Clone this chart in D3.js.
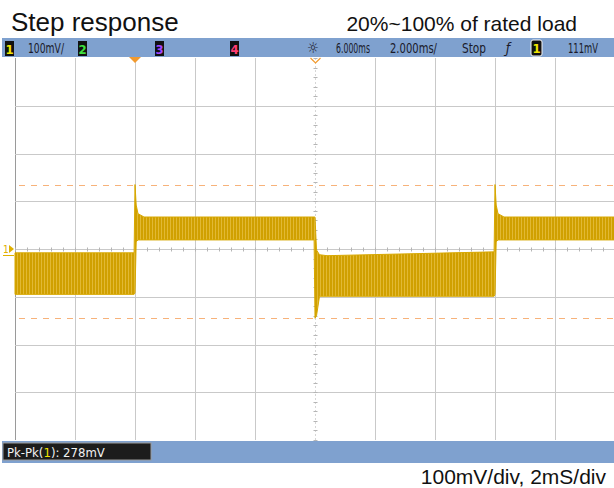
<!DOCTYPE html>
<html>
<head>
<meta charset="utf-8">
<script src="https://cdn.jsdelivr.net/npm/d3@7"></script>
<style>
  body { margin: 0; background: #fff; }
  svg { display: block; }
  .title { font-family: "Liberation Sans", Arial, sans-serif; fill: #111; }
  .scope { font-family: "DejaVu Sans Condensed", "DejaVu Sans", sans-serif; font-stretch: condensed; }
</style>
</head>
<body>
<div id="chart"></div>
<script>
// trace envelope (time in ms, volts in mV relative to ch1 ground)
var traceTime  = [-4, -0.03, 0.0, 0.04, 0.1, 0.3, 5.97, 6.0, 6.05, 6.15, 6.4, 11.97, 12.0, 12.04, 12.1, 12.3, 16];
var traceUpper = [-8, -8, 135, 92, 74, 67, 67, 67, -2, -12, -14, -6, 135, 92, 74, 67, 67];
var traceLower = [-95, -95, -92, 15, 19, 19, 19, -145, -140, -99, -99, -99, -95, 15, 19, 19, 19];

var xTicks = [-4, -2, 0, 2, 4, 6, 8, 10, 12, 14, 16];
var yTicks = [-400, -300, -200, -100, 0, 100, 200, 300, 400];
var cursorLevels = [135, -145];   // dashed orange cursors
var triggerTime = 0;
var delayTime = 6;

var width = 614, height = 488;

var svg = d3.select("#chart").append("svg")
    .attr("width", width)
    .attr("height", height);

var xScale = d3.scaleLinear().domain([-4, 16]).range([15, 615]);
var yScale = d3.scaleLinear().domain([-400, 400]).range([440, 58]);

// titles
svg.append("text").attr("class", "title")
    .attr("x", 11).attr("y", 31)
    .attr("font-size", 26)
    .text("Step response");

svg.append("text").attr("class", "title")
    .attr("x", 577).attr("y", 31)
    .attr("text-anchor", "end")
    .attr("font-size", 21)
    .text("20%~100% of rated load");

svg.append("text").attr("class", "title")
    .attr("x", 606).attr("y", 484)
    .attr("text-anchor", "end")
    .attr("font-size", 21)
    .text("100mV/div, 2mS/div");

// grid
var grid = svg.append("g");

grid.selectAll(".vline")
    .data(xTicks.filter(d => d != delayTime))
    .enter().append("line")
    .attr("x1", d => Math.round(xScale(d)) + 0.5)
    .attr("x2", d => Math.round(xScale(d)) + 0.5)
    .attr("y1", yScale(400))
    .attr("y2", yScale(-400))
    .attr("stroke", d => d == -4 ? "#9a9a9a" : "#c9c9c9");

grid.selectAll(".hline")
    .data(yTicks.filter(d => d != 0 && Math.abs(d) != 400))
    .enter().append("line")
    .attr("x1", xScale(-4))
    .attr("x2", width)
    .attr("y1", d => Math.round(yScale(d)) + 0.5)
    .attr("y2", d => Math.round(yScale(d)) + 0.5)
    .attr("stroke", "#c9c9c9");

// centre axes with minor ticks
var cx = Math.round(xScale(delayTime)) + 0.5;
var cy = Math.round(yScale(0)) + 0.5;
grid.append("line")
    .attr("x1", xScale(-4)).attr("x2", width)
    .attr("y1", cy).attr("y2", cy)
    .attr("stroke", "#c9c9c9");
grid.append("line")
    .attr("x1", cx).attr("x2", cx)
    .attr("y1", yScale(400)).attr("y2", yScale(-400))
    .attr("stroke", "#d6d6d6")
    .attr("stroke-dasharray", "2,2");

var minorX = d3.range(-4, 16.01, 0.4);
grid.selectAll(".mx")
    .data(minorX)
    .enter().append("line")
    .attr("x1", d => Math.round(xScale(d)) + 0.5)
    .attr("x2", d => Math.round(xScale(d)) + 0.5)
    .attr("y1", cy - 2).attr("y2", cy + 2)
    .attr("stroke", "#b5b5b5");

var minorY = d3.range(-400, 400.1, 20);
grid.selectAll(".my")
    .data(minorY)
    .enter().append("line")
    .attr("x1", cx - 2).attr("x2", cx + 2)
    .attr("y1", d => Math.round(yScale(d)) + 0.5)
    .attr("y2", d => Math.round(yScale(d)) + 0.5)
    .attr("stroke", "#b5b5b5");

// cursors
svg.selectAll(".cursor")
    .data(cursorLevels)
    .enter().append("line")
    .attr("x1", xScale(-4) + 4).attr("x2", width)
    .attr("y1", d => Math.round(yScale(d)) + 0.5)
    .attr("y2", d => Math.round(yScale(d)) + 0.5)
    .attr("stroke", "#f7b27a")
    .attr("stroke-dasharray", "6,6");

// trace texture
var defs = svg.append("defs");
var pat = defs.append("pattern")
    .attr("id", "ripple")
    .attr("patternUnits", "userSpaceOnUse")
    .attr("width", 3).attr("height", 6);
pat.append("rect").attr("width", 3).attr("height", 6).attr("fill", "#d0a000");
pat.append("rect").attr("x", 2).attr("width", 1).attr("height", 6).attr("fill", "#e2b934");

var trace = traceTime.map((t, i) => ({t: t, hi: traceUpper[i], lo: traceLower[i]}));

var area = d3.area()
    .x(d => xScale(d.t))
    .y0(d => yScale(d.lo))
    .y1(d => yScale(d.hi));

svg.append("path")
    .datum(trace)
    .attr("d", area)
    .attr("fill", "url(#ripple)")
    .attr("stroke", "#d8a800")
    .attr("stroke-width", 1);

// ch1 ground marker
var gm = svg.append("g").attr("transform", `translate(3, ${yScale(0)})`);
gm.append("text").attr("class", "scope")
    .attr("x", 0).attr("y", 4)
    .attr("font-size", 10)
    .attr("fill", "#e0b000")
    .text("1");
gm.append("path").attr("d", "M6,-4 L11,0 L6,4 Z").attr("fill", "#e0b000");
gm.append("line").attr("x1", 0).attr("x2", 11).attr("y1", 6.5).attr("y2", 6.5)
    .attr("stroke", "#e0b000");

// header bar
var barColor = "#7fa1cf";
svg.append("rect").attr("x", 2).attr("y", 38).attr("width", width - 2).attr("height", 19).attr("fill", barColor);

svg.append("path")
    .attr("d", `M${xScale(triggerTime) - 6},57 L${xScale(triggerTime) + 6},57 L${xScale(triggerTime)},63 Z`)
    .attr("fill", "#f29a2e");
svg.append("path")
    .attr("d", `M${cx - 5},58 L${cx},63 L${cx + 5},58`)
    .attr("fill", "none")
    .attr("stroke", "#f29a2e")
    .attr("stroke-width", 1.2);

var channels = [
  {label: "1", x: 5, color: "#f2e600"},
  {label: "2", x: 78, color: "#3fe03f"},
  {label: "3", x: 155, color: "#a346ff"},
  {label: "4", x: 230, color: "#ff3d73"}
];

var chG = svg.selectAll(".ch")
    .data(channels)
    .enter().append("g")
    .attr("transform", d => `translate(${d.x}, 41)`);
chG.append("rect").attr("width", 9).attr("height", 15).attr("fill", "#111");
chG.append("text").attr("class", "scope")
    .attr("x", 4.5).attr("y", 12.5)
    .attr("text-anchor", "middle")
    .attr("font-size", 13)
    .attr("font-weight", "bold")
    .attr("fill", d => d.color)
    .text(d => d.label);

var headerText = [
  {text: "100mV/", x: 28, len: 36},
  {text: "6.000ms", x: 336, len: 34},
  {text: "2.000ms/", x: 390, len: 47},
  {text: "Stop", x: 462, len: 24},
  {text: "111mV", x: 568, len: 30}
];

svg.selectAll(".hdr")
    .data(headerText)
    .enter().append("text")
    .attr("class", "scope")
    .attr("x", d => d.x).attr("y", 53)
    .attr("font-size", 14)
    .attr("fill", "#1a1a2a")
    .attr("textLength", d => d.len)
    .attr("lengthAdjust", "spacingAndGlyphs")
    .text(d => d.text);

svg.append("text").attr("class", "scope")
    .attr("x", 313).attr("y", 53)
    .attr("text-anchor", "middle")
    .attr("font-size", 15)
    .attr("fill", "#1a1a2a")
    .text("☼");

svg.append("text").attr("class", "scope")
    .attr("x", 508).attr("y", 53)
    .attr("text-anchor", "middle")
    .attr("font-size", 14)
    .attr("font-style", "italic")
    .attr("fill", "#1a1a2a")
    .text("ƒ");

var trigBox = svg.append("g").attr("transform", "translate(531, 40)");
trigBox.append("rect").attr("width", 11).attr("height", 16).attr("rx", 2)
    .attr("fill", "#111").attr("stroke", "#f4f4f4").attr("stroke-width", 1);
trigBox.append("text").attr("class", "scope")
    .attr("x", 5.5).attr("y", 13)
    .attr("text-anchor", "middle")
    .attr("font-size", 13)
    .attr("font-weight", "bold")
    .attr("fill", "#f2e600")
    .text("1");

// bottom measurement bar
svg.append("rect").attr("x", 2).attr("y", 441).attr("width", width - 2).attr("height", 22).attr("fill", barColor);
svg.append("rect").attr("x", 3).attr("y", 443).attr("width", 148).attr("height", 17)
    .attr("fill", "#1c1c1c").attr("stroke", "#9a9a9a");

var meas = svg.append("text").attr("class", "scope")
    .attr("x", 7).attr("y", 457)
    .attr("font-size", 13)
    .attr("fill", "#f2f2f2");
meas.append("tspan").text("Pk-Pk(");
meas.append("tspan").attr("fill", "#f2e600").text("1");
meas.append("tspan").text("): 278mV");
</script>
</body>
</html>
